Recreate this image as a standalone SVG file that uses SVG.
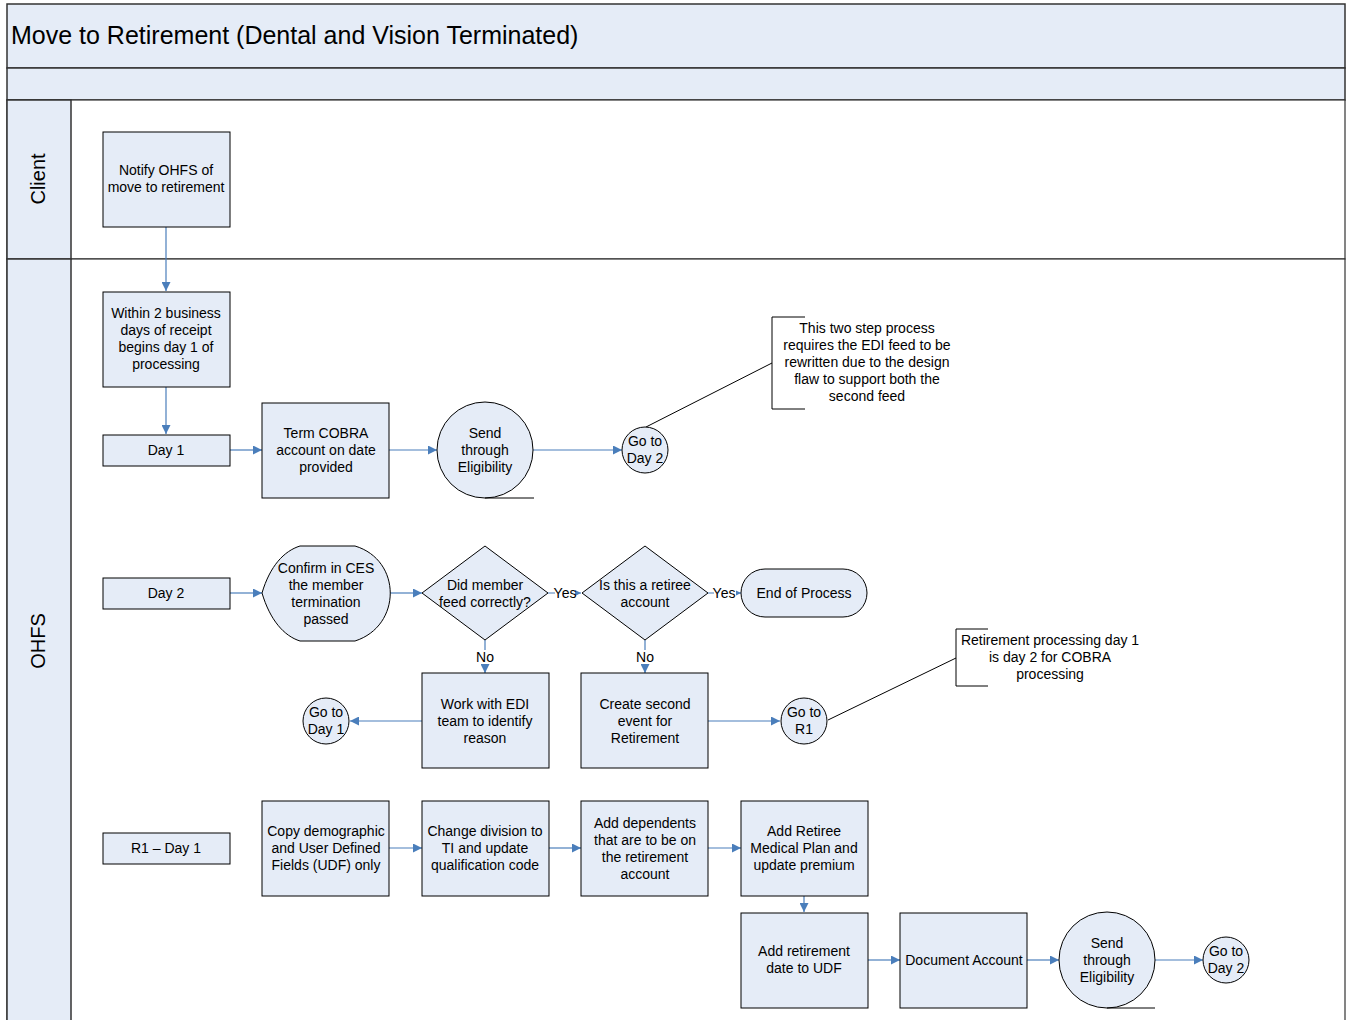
<svg xmlns="http://www.w3.org/2000/svg" width="1346" height="1020" viewBox="0 0 1346 1020">
<style>
.n{fill:#e5ecf7;stroke:#000;stroke-width:1}
.t{font-family:"Liberation Sans",Arial,sans-serif;font-size:14px;fill:#000;text-anchor:middle}
.lane{fill:#e5ecf7;stroke:#333;stroke-width:1.5}
.c{stroke:#4a7ebb;stroke-width:1.2;fill:none;marker-end:url(#a)}
.k{stroke:#000;stroke-width:1;fill:none}
</style>
<defs>
<marker id="a" viewBox="0 0 10 10" refX="10" refY="5" markerWidth="9" markerHeight="9" markerUnits="userSpaceOnUse" orient="auto"><path d="M0,0 L10,5 L0,10 z" fill="#4a7ebb"/></marker>
</defs>
<g id="pool">
<rect x="7" y="4" width="1338" height="64" class="lane"/>
<rect x="7" y="68" width="1338" height="32" class="lane"/>
<rect x="7" y="100" width="1338" height="159" fill="#fff" stroke="#333" stroke-width="1.2"/>
<rect x="7" y="259" width="1338" height="770" fill="#fff" stroke="#333" stroke-width="1.2"/>
<rect x="7" y="100" width="64" height="159" class="lane" stroke-width="1.2"/>
<rect x="7" y="259" width="64" height="770" class="lane" stroke-width="1.2"/>
<text x="11" y="44" font-family="'Liberation Sans',Arial,sans-serif" font-size="25">Move to Retirement (Dental and Vision Terminated)</text>
<text transform="translate(45,179) rotate(-90)" text-anchor="middle" font-family="'Liberation Sans',Arial,sans-serif" font-size="20">Client</text>
<text transform="translate(45,641) rotate(-90)" text-anchor="middle" font-family="'Liberation Sans',Arial,sans-serif" font-size="20">OHFS</text>
</g>
<g id="connectors">
<line x1="166" y1="227" x2="166" y2="291" class="c"/>
<line x1="166" y1="387" x2="166" y2="434" class="c"/>
<line x1="230" y1="450" x2="262" y2="450" class="c"/>
<line x1="389" y1="450" x2="437" y2="450" class="c"/>
<line x1="533" y1="450" x2="622" y2="450" class="c"/>
<line x1="230" y1="593" x2="262" y2="593" class="c"/>
<line x1="390" y1="593" x2="422" y2="593" class="c"/>
<line x1="548" y1="593" x2="581" y2="593" class="c"/>
<line x1="708" y1="593" x2="741" y2="593" class="c"/>
<line x1="485" y1="640" x2="485" y2="673" class="c"/>
<line x1="645" y1="640" x2="645" y2="673" class="c"/>
<line x1="422" y1="721" x2="350" y2="721" class="c"/>
<line x1="708" y1="721" x2="780" y2="721" class="c"/>
<line x1="389" y1="848" x2="422" y2="848" class="c"/>
<line x1="549" y1="848" x2="581" y2="848" class="c"/>
<line x1="708" y1="848" x2="741" y2="848" class="c"/>
<line x1="804" y1="896" x2="804" y2="912" class="c"/>
<line x1="868" y1="960" x2="900" y2="960" class="c"/>
<line x1="1027" y1="960" x2="1059" y2="960" class="c"/>
<line x1="1155" y1="960" x2="1203" y2="960" class="c"/>
<line x1="772" y1="363" x2="646" y2="427" class="k"/>
<line x1="956" y1="658" x2="828" y2="720" class="k"/>
<rect x="555" y="586" width="20" height="14" fill="#fff"/>
<text x="565" y="598" class="t">Yes</text>
<rect x="714" y="586" width="22" height="14" fill="#fff"/>
<text x="724" y="598" class="t">Yes</text>
<rect x="475" y="650" width="20" height="14" fill="#fff"/>
<text x="485" y="662" class="t">No</text>
<rect x="635" y="650" width="20" height="14" fill="#fff"/>
<text x="645" y="662" class="t">No</text>
</g>
<g id="notify"><rect x="103" y="132" width="127" height="95" class="n"/><text class="t" x="166" y="175">Notify OHFS of</text><text class="t" x="166" y="192">move to retirement</text></g>
<g id="within"><rect x="103" y="292" width="127" height="95" class="n"/><text class="t" x="166" y="318">Within 2 business</text><text class="t" x="166" y="335">days of receipt</text><text class="t" x="166" y="352">begins day 1 of</text><text class="t" x="166" y="369">processing</text></g>
<g id="day1"><rect x="103" y="435" width="127" height="31" class="n"/><text class="t" x="166" y="455">Day 1</text></g>
<g id="termcobra"><rect x="262" y="403" width="127" height="95" class="n"/><text class="t" x="326" y="438">Term COBRA</text><text class="t" x="326" y="455">account on date</text><text class="t" x="326" y="472">provided</text></g>
<g id="send1"><circle cx="485" cy="450" r="48" class="n"/><line x1="485" y1="498" x2="534" y2="498" class="k"/><text class="t" x="485" y="438">Send</text><text class="t" x="485" y="455">through</text><text class="t" x="485" y="472">Eligibility</text></g>
<g id="goday2a"><circle cx="645" cy="450" r="23" class="n"/><text class="t" x="645" y="446">Go to</text><text class="t" x="645" y="463">Day 2</text></g>
<g id="note1"><path d="M805,317 H772 V409 H805" class="k"/><text class="t" x="867" y="333">This two step process</text><text class="t" x="867" y="350">requires the EDI feed to be</text><text class="t" x="867" y="367">rewritten due to the design</text><text class="t" x="867" y="384">flaw to support both the</text><text class="t" x="867" y="401">second feed</text></g>
<g id="day2"><rect x="103" y="578" width="127" height="31" class="n"/><text class="t" x="166" y="598">Day 2</text></g>
<g id="confirm"><path d="M262,593 C270,566 284,551 300,546 H355 C402,560 402,626 355,641 H300 C284,636 270,620 262,593 Z" class="n"/><text class="t" x="326" y="573">Confirm in CES</text><text class="t" x="326" y="590">the member</text><text class="t" x="326" y="607">termination</text><text class="t" x="326" y="624">passed</text></g>
<g id="dec1"><path d="M485,546 L548,593 L485,640 L422,593 Z" class="n"/><text class="t" x="485" y="590">Did member</text><text class="t" x="485" y="607">feed correctly?</text></g>
<g id="dec2"><path d="M645,546 L708,593 L645,640 L582,593 Z" class="n"/><text class="t" x="645" y="590">Is this a retiree</text><text class="t" x="645" y="607">account</text></g>
<g id="end"><rect x="741" y="569" width="126" height="48" rx="24" class="n"/><text class="t" x="804" y="598">End of Process</text></g>
<g id="workedi"><rect x="422" y="673" width="127" height="95" class="n"/><text class="t" x="485" y="709">Work with EDI</text><text class="t" x="485" y="726">team to identify</text><text class="t" x="485" y="743">reason</text></g>
<g id="createsecond"><rect x="581" y="673" width="127" height="95" class="n"/><text class="t" x="645" y="709">Create second</text><text class="t" x="645" y="726">event for</text><text class="t" x="645" y="743">Retirement</text></g>
<g id="goday1"><circle cx="326" cy="721" r="23" class="n"/><text class="t" x="326" y="717">Go to</text><text class="t" x="326" y="734">Day 1</text></g>
<g id="gor1"><circle cx="804" cy="721" r="23" class="n"/><text class="t" x="804" y="717">Go to</text><text class="t" x="804" y="734">R1</text></g>
<g id="note2"><path d="M988,629 H956 V686 H988" class="k"/><text class="t" x="1050" y="645">Retirement processing day 1</text><text class="t" x="1050" y="662">is day 2 for COBRA</text><text class="t" x="1050" y="679">processing</text></g>
<g id="r1day1"><rect x="103" y="833" width="127" height="31" class="n"/><text class="t" x="166" y="853">R1 – Day 1</text></g>
<g id="copydemo"><rect x="262" y="801" width="127" height="95" class="n"/><text class="t" x="326" y="836">Copy demographic</text><text class="t" x="326" y="853">and User Defined</text><text class="t" x="326" y="870">Fields (UDF) only</text></g>
<g id="changediv"><rect x="422" y="801" width="127" height="95" class="n"/><text class="t" x="485" y="836">Change division to</text><text class="t" x="485" y="853">TI and update</text><text class="t" x="485" y="870">qualification code</text></g>
<g id="adddep"><rect x="581" y="801" width="127" height="95" class="n"/><text class="t" x="645" y="828">Add dependents</text><text class="t" x="645" y="845">that are to be on</text><text class="t" x="645" y="862">the retirement</text><text class="t" x="645" y="879">account</text></g>
<g id="addmed"><rect x="741" y="801" width="127" height="95" class="n"/><text class="t" x="804" y="836">Add Retiree</text><text class="t" x="804" y="853">Medical Plan and</text><text class="t" x="804" y="870">update premium</text></g>
<g id="adddate"><rect x="741" y="913" width="127" height="95" class="n"/><text class="t" x="804" y="956">Add retirement</text><text class="t" x="804" y="973">date to UDF</text></g>
<g id="docacct"><rect x="900" y="913" width="127" height="95" class="n"/><text class="t" x="964" y="965">Document Account</text></g>
<g id="send2"><circle cx="1107" cy="960" r="48" class="n"/><line x1="1107" y1="1008" x2="1155" y2="1008" class="k"/><text class="t" x="1107" y="948">Send</text><text class="t" x="1107" y="965">through</text><text class="t" x="1107" y="982">Eligibility</text></g>
<g id="goday2b"><circle cx="1226" cy="960" r="23" class="n"/><text class="t" x="1226" y="956">Go to</text><text class="t" x="1226" y="973">Day 2</text></g>
</svg>
